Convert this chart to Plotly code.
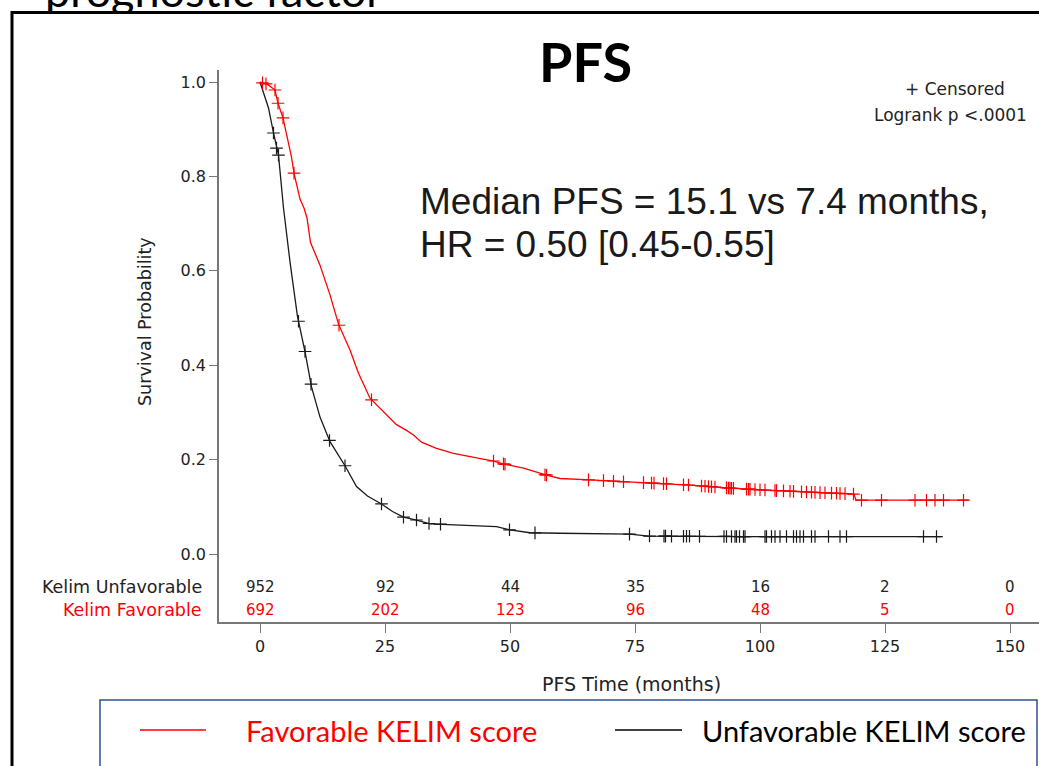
import numpy as np
import plotly.graph_objects as go

W, H = 1039, 766

# ---------------- data ----------------
fav_t = [0, 1.5, 3, 3.6, 4.6, 5.7, 6.3, 6.8, 8, 8.8, 9.4, 10.1, 12, 14, 15.7, 18, 19.7, 22, 25.3,
         27.3, 29.3, 30.7, 32.3, 35.3, 38.7, 42, 46.7, 49, 52.7, 57.3, 60, 66, 72.7, 79.3, 86,
         94.7, 100, 110, 118.8, 119.2, 141.7]
fav_s = [1.0, 0.995, 0.983, 0.955, 0.924, 0.873, 0.841, 0.807, 0.752, 0.733, 0.712, 0.66, 0.612,
         0.549, 0.487, 0.432, 0.383, 0.33, 0.294, 0.274, 0.262, 0.252, 0.237, 0.224, 0.213,
         0.206, 0.197, 0.19, 0.182, 0.167, 0.16, 0.157, 0.153, 0.15, 0.146, 0.139, 0.136, 0.131,
         0.127, 0.114, 0.114]

unf_t = [0, 1.7, 2.7, 3.3, 3.7, 4.7, 6, 7.5, 9, 10.3, 12, 14, 17, 19.3, 21.5, 24.3, 26.5, 28.7,
         31.3, 34, 36.3, 42, 47.3, 50, 54, 60, 74, 77.7, 96, 136.3]
unf_s = [1.0, 0.945, 0.892, 0.86, 0.845, 0.733, 0.619, 0.503, 0.429, 0.354, 0.29, 0.238, 0.187,
         0.143, 0.123, 0.106, 0.09, 0.078, 0.072, 0.064, 0.063, 0.06, 0.058, 0.051, 0.045, 0.044,
         0.042, 0.038, 0.037, 0.037]

fav_cens = [0.5, 1.2, 3, 3.6, 4.6, 6.8, 15.8, 22.3, 46.7, 48.7, 49, 57, 57.3, 65.7, 68.7, 70.7,
            72.7, 76.7, 78.3, 78.8, 80.7, 81.3, 84.7, 85.7, 88.3, 89, 89.7, 90.3, 91, 93.3, 93.7,
            94, 94.3, 94.7, 97.3, 97.7, 98, 99, 100, 101, 103, 103.3, 104.7, 106, 106.7, 108.3,
            109.3, 110.3, 111, 112, 113, 114.3, 115.3, 116, 117, 118.7, 120.3, 124.3, 131, 133.3,
            135, 136.7, 140.7]
unf_cens = [2.7, 3.3, 3.7, 7.7, 9, 10.2, 13.9, 17, 24.3, 28.7, 31.3, 33.8, 36.1, 49.9, 55, 73.9,
            77.9, 80.8, 81.1, 82.3, 84.7, 85.3, 85.9, 87.9, 92.8, 93.3, 94.3, 95, 95.3, 95.9,
            96.7, 97, 101, 101.3, 102.3, 103, 104, 105.3, 106.7, 107.3, 108, 108.7, 110.3, 111,
            113.7, 116, 117.3, 132.7, 135.3]

risk_times = [0, 25, 50, 75, 100, 125, 150]
risk_unf = [952, 92, 44, 35, 16, 2, 0]
risk_fav = [692, 202, 123, 96, 48, 5, 0]

x_ticks = [0, 25, 50, 75, 100, 125, 150]
y_ticks = [0.0, 0.2, 0.4, 0.6, 0.8, 1.0]
y_ticklabels = ["0.0", "0.2", "0.4", "0.6", "0.8", "1.0"]

RED = "#FF0000"
BLK = "#1a1a1a"
SAS_FONT = "DejaVu Sans"
TXT = "#222222"


def px(x):
    return x / W


def py(y):
    return 1 - y / H


fig = go.Figure()

# curves
fig.add_trace(go.Scatter(x=fav_t, y=fav_s, mode="lines", line=dict(color=RED, width=1.3),
                         showlegend=False, hoverinfo="skip"))
fig.add_trace(go.Scatter(x=unf_t, y=unf_s, mode="lines", line=dict(color=BLK, width=1.3),
                         showlegend=False, hoverinfo="skip"))
# censor marks
fig.add_trace(go.Scatter(x=fav_cens, y=np.interp(fav_cens, fav_t, fav_s), mode="markers",
                         marker=dict(symbol="cross-thin", size=9, line=dict(color=RED, width=1.2)),
                         showlegend=False, hoverinfo="skip"))
fig.add_trace(go.Scatter(x=unf_cens, y=np.interp(unf_cens, unf_t, unf_s), mode="markers",
                         marker=dict(symbol="cross-thin", size=9, line=dict(color=BLK, width=1.2)),
                         showlegend=False, hoverinfo="skip"))

# clipped slide heading at the very top
fig.add_trace(go.Scatter(x=[45], y=[4], mode="text", text=["prognostic factor"],
                         textposition="middle right",
                         textfont=dict(family="Lato", size=45, color="#000000"),
                         xaxis="x2", yaxis="y2", cliponaxis=True, showlegend=False,
                         hoverinfo="skip"))

x_lo, x_hi = -8.2, 155.8
y_lo, y_hi = (554 - 622) / 472, (554 - 70) / 472

fig.update_layout(
    width=W, height=H,
    margin=dict(l=0, r=0, t=0, b=0),
    paper_bgcolor="white", plot_bgcolor="white",
    xaxis=dict(domain=[px(219), 1.0], range=[x_lo, x_hi], tickvals=x_ticks,
               ticks="outside", ticklen=9, tickcolor="#777777", tickwidth=1.3,
               showline=True, linecolor="#777777", linewidth=1.5,
               showgrid=False, zeroline=False,
               tickfont=dict(family=SAS_FONT, size=16, color=TXT)),
    yaxis=dict(domain=[py(622), py(70)], range=[y_lo, y_hi], tickvals=y_ticks,
               ticktext=y_ticklabels, ticks="outside", ticklen=8, tickcolor="#777777",
               tickwidth=1.3, showline=True, linecolor="#777777", linewidth=1.5,
               showgrid=False, zeroline=False,
               tickfont=dict(family=SAS_FONT, size=16, color=TXT)),
    xaxis2=dict(domain=[0, 1], range=[0, W], visible=False, anchor="y2"),
    yaxis2=dict(domain=[py(12), 1.0], range=[-12, 0], visible=False, anchor="x2"),
)

ann = []
# titles / text
ann.append(dict(text="<b>PFS</b>", x=px(585), y=py(62), xref="paper", yref="paper",
                showarrow=False, font=dict(family="Lato", size=54, color="#000000"),
                xanchor="center", yanchor="middle"))
ann.append(dict(text="Median PFS = 15.1 vs 7.4 months,", x=px(418), y=py(201), xref="paper",
                yref="paper", showarrow=False, xanchor="left", yanchor="middle",
                font=dict(family="Liberation Sans", size=37, color="#1a1a1a")))
ann.append(dict(text="HR = 0.50 [0.45-0.55]", x=px(418), y=py(244), xref="paper",
                yref="paper", showarrow=False, xanchor="left", yanchor="middle",
                font=dict(family="Liberation Sans", size=37, color="#1a1a1a")))
ann.append(dict(text="+ Censored", x=px(1007), y=py(89), xref="paper", yref="paper",
                showarrow=False, xanchor="right", yanchor="middle",
                font=dict(family=SAS_FONT, size=17, color=TXT)))
ann.append(dict(text="Logrank p <.0001", x=px(1029), y=py(115), xref="paper", yref="paper",
                showarrow=False, xanchor="right", yanchor="middle",
                font=dict(family=SAS_FONT, size=17, color=TXT)))
ann.append(dict(text="Survival Probability", x=px(145), y=py(322), xref="paper", yref="paper",
                showarrow=False, textangle=-90, xanchor="center", yanchor="middle",
                font=dict(family=SAS_FONT, size=17.5, color=TXT)))
ann.append(dict(text="PFS Time (months)", x=px(631), y=py(684), xref="paper", yref="paper",
                showarrow=False, xanchor="center", yanchor="middle",
                font=dict(family=SAS_FONT, size=19, color=TXT)))
# risk table
ann.append(dict(text="Kelim Unfavorable", x=px(204), y=py(587), xref="paper", yref="paper",
                showarrow=False, xanchor="right", yanchor="middle",
                font=dict(family=SAS_FONT, size=17.5, color=TXT)))
ann.append(dict(text="Kelim Favorable", x=px(204), y=py(610), xref="paper", yref="paper",
                showarrow=False, xanchor="right", yanchor="middle",
                font=dict(family=SAS_FONT, size=17.5, color=RED)))
for t, n in zip(risk_times, risk_unf):
    ann.append(dict(text=str(n), x=t, y=py(587), xref="x", yref="paper", showarrow=False,
                    xanchor="center", yanchor="middle",
                    font=dict(family=SAS_FONT, size=15, color=TXT)))
for t, n in zip(risk_times, risk_fav):
    ann.append(dict(text=str(n), x=t, y=py(610), xref="x", yref="paper", showarrow=False,
                    xanchor="center", yanchor="middle",
                    font=dict(family=SAS_FONT, size=15, color=RED)))
# legend texts
ann.append(dict(text="Favorable KELIM score", x=px(244), y=py(730), xref="paper", yref="paper",
                showarrow=False, xanchor="left", yanchor="middle",
                font=dict(family="Lato", size=29, color=RED)))
ann.append(dict(text="Unfavorable KELIM score", x=px(700), y=py(730), xref="paper",
                yref="paper", showarrow=False, xanchor="left", yanchor="middle",
                font=dict(family="Lato", size=29, color="#000000")))
fig.update_layout(annotations=ann)

shapes = [
    # slide frame
    dict(type="line", xref="paper", yref="paper", x0=px(11), x1=1.0, y0=py(12.5), y1=py(12.5),
         line=dict(color="#000000", width=3)),
    dict(type="line", xref="paper", yref="paper", x0=px(12), x1=px(12), y0=py(11), y1=py(770),
         line=dict(color="#000000", width=3)),
    # legend box
    dict(type="rect", xref="paper", yref="paper", x0=px(100), x1=px(1037), y0=py(700),
         y1=py(775), line=dict(color="#2F528F", width=1.5), fillcolor="rgba(0,0,0,0)"),
    # legend keys
    dict(type="line", xref="paper", yref="paper", x0=px(140), x1=px(206), y0=py(730),
         y1=py(730), line=dict(color=RED, width=1.3)),
    dict(type="line", xref="paper", yref="paper", x0=px(615), x1=px(682), y0=py(730),
         y1=py(730), line=dict(color="#000000", width=1.3)),
]
fig.update_layout(shapes=shapes)

fig.write_html("out.html")
